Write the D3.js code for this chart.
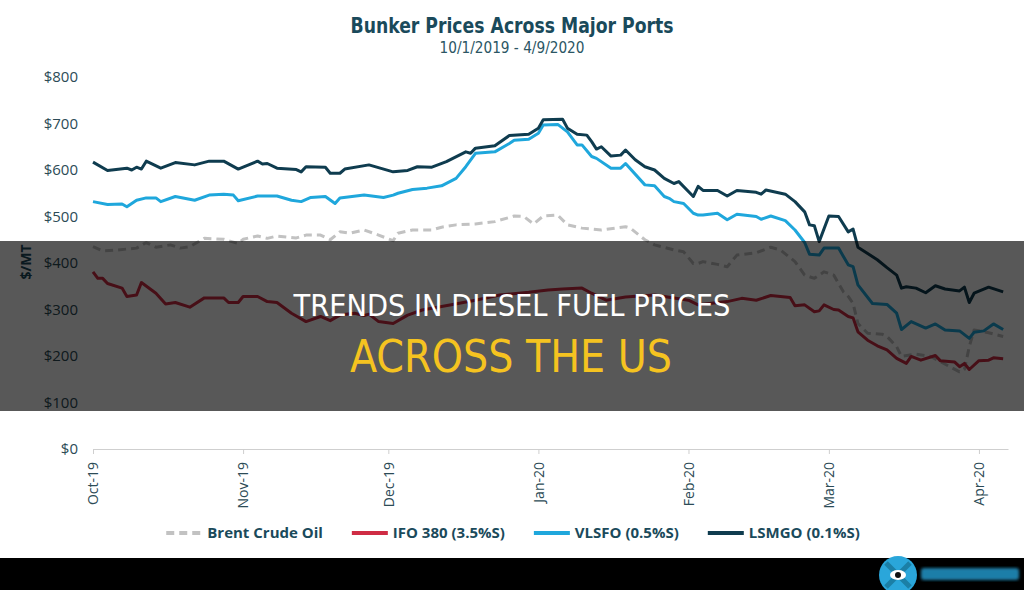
<!DOCTYPE html>
<html>
<head>
<meta charset="utf-8">
<script src="https://cdn.jsdelivr.net/npm/d3@7"></script>
<style>
  html, body { margin: 0; padding: 0; background: #fff; }
  svg { display: block; }
</style>
</head>
<body>
<div id="chart"></div>
<script>
// values, $/MT
const brentDates = ['2019-10-01','2019-10-03','2019-10-06','2019-10-10','2019-10-12','2019-10-14','2019-10-17','2019-10-19','2019-10-21','2019-10-24','2019-10-28','2019-10-31',
    '2019-11-01','2019-11-04','2019-11-06','2019-11-08','2019-11-12','2019-11-14','2019-11-17','2019-11-19','2019-11-21','2019-11-23','2019-11-26','2019-11-29',
    '2019-12-02','2019-12-03','2019-12-06','2019-12-10','2019-12-12','2019-12-15','2019-12-19','2019-12-23','2019-12-27','2019-12-29','2019-12-31',
    '2020-01-02','2020-01-05','2020-01-07','2020-01-10','2020-01-14','2020-01-19','2020-01-20','2020-01-23','2020-01-25','2020-01-29','2020-01-31',
    '2020-02-02','2020-02-03','2020-02-04','2020-02-07','2020-02-09','2020-02-11','2020-02-15','2020-02-18','2020-02-20','2020-02-23','2020-02-25','2020-02-27','2020-02-29',
    '2020-03-02','2020-03-04','2020-03-05','2020-03-06','2020-03-07','2020-03-09','2020-03-12','2020-03-13','2020-03-15','2020-03-16','2020-03-19','2020-03-22','2020-03-24','2020-03-28','2020-03-29','2020-03-30','2020-03-31',
    '2020-04-03','2020-04-06']
const brentValues = [435,426,428,432,444,434,439,432,435,453,451,442,
    451,458,453,458,454,460,460,450,467,464,471,460,
    448,464,471,471,477,482,484,489,501,500,484,
    501,503,482,475,471,478,475,450,439,428,424,
    399,399,403,397,392,417,422,434,428,403,374,367,381,
    374,338,328,313,270,249,247,242,220,199,204,199,188,166,171,220,256,
    250,242]

const ifoDates = ['2019-10-01','2019-10-02','2019-10-03','2019-10-04','2019-10-07','2019-10-08','2019-10-10','2019-10-11','2019-10-14','2019-10-16','2019-10-18','2019-10-21','2019-10-24','2019-10-28','2019-10-29','2019-10-31',
    '2019-11-01','2019-11-04','2019-11-06','2019-11-08','2019-11-11','2019-11-14','2019-11-17','2019-11-19','2019-11-21','2019-11-24','2019-11-26','2019-11-27','2019-11-29',
    '2019-12-02','2019-12-05','2019-12-08','2019-12-14','2019-12-19','2019-12-24','2019-12-30',
    '2020-01-03','2020-01-06','2020-01-10','2020-01-12','2020-01-15','2020-01-19','2020-01-25',
    '2020-02-01','2020-02-03','2020-02-09','2020-02-12','2020-02-15','2020-02-18','2020-02-22','2020-02-23','2020-02-25','2020-02-27','2020-02-28','2020-02-29',
    '2020-03-02','2020-03-03','2020-03-05','2020-03-06','2020-03-07','2020-03-09','2020-03-11','2020-03-13','2020-03-15','2020-03-17','2020-03-18','2020-03-20','2020-03-23','2020-03-24','2020-03-27','2020-03-28','2020-03-29','2020-03-30',
    '2020-04-01','2020-04-03','2020-04-04','2020-04-06']
const ifoValues = [381,367,367,356,346,328,331,358,335,312,315,305,325,325,315,315,
    328,328,317,315,292,274,285,276,288,292,287,290,274,
    270,288,299,310,320,331,337,
    342,344,346,335,320,327,331,
    320,310,317,324,320,330,326,308,310,295,297,310,
    300,299,285,282,252,234,222,213,195,184,199,191,201,190,187,177,184,171,
    190,191,196,194]

const vlsfoDates = ['2019-10-01','2019-10-04','2019-10-07','2019-10-08','2019-10-10','2019-10-12','2019-10-14','2019-10-15','2019-10-18','2019-10-22','2019-10-25','2019-10-28','2019-10-30','2019-10-31',
    '2019-11-04','2019-11-08','2019-11-11','2019-11-13','2019-11-15','2019-11-18','2019-11-20','2019-11-21','2019-11-26','2019-11-30',
    '2019-12-02','2019-12-03','2019-12-06','2019-12-09','2019-12-12','2019-12-15','2019-12-17','2019-12-19','2019-12-23','2019-12-26','2019-12-27','2019-12-30',
    '2020-01-01','2020-01-02','2020-01-05','2020-01-07','2020-01-09','2020-01-10','2020-01-12','2020-01-13','2020-01-16','2020-01-18','2020-01-19','2020-01-23','2020-01-25','2020-01-27','2020-01-28','2020-01-29','2020-01-31',
    '2020-02-02','2020-02-03','2020-02-04','2020-02-07','2020-02-09','2020-02-11','2020-02-15','2020-02-16','2020-02-18','2020-02-21','2020-02-23','2020-02-25','2020-02-26','2020-02-28','2020-02-29',
    '2020-03-03','2020-03-05','2020-03-06','2020-03-07','2020-03-10','2020-03-13','2020-03-15','2020-03-16','2020-03-18','2020-03-21','2020-03-23','2020-03-25','2020-03-28','2020-03-30','2020-03-31',
    '2020-04-02','2020-04-04','2020-04-06']
const vlsfoValues = [532,526,527,521,535,540,540,532,543,535,546,548,546,534,
    544,544,535,532,541,543,528,540,546,541,
    546,550,558,561,566,582,607,636,639,657,664,666,
    679,697,698,682,654,654,629,625,604,604,614,568,566,543,539,532,528,
    507,503,503,507,493,505,500,494,501,491,471,444,419,417,432,
    432,396,392,353,313,311,292,257,274,260,269,256,254,238,251,
    254,269,257]

const lsmgoDates = ['2019-10-01','2019-10-04','2019-10-08','2019-10-09','2019-10-10','2019-10-11','2019-10-12','2019-10-15','2019-10-18','2019-10-22','2019-10-25','2019-10-28','2019-10-31',
    '2019-11-04','2019-11-05','2019-11-06','2019-11-08','2019-11-12','2019-11-13','2019-11-14','2019-11-18','2019-11-19','2019-11-21','2019-11-22','2019-11-27',
    '2019-12-02','2019-12-05','2019-12-07','2019-12-10','2019-12-13','2019-12-17','2019-12-18','2019-12-19','2019-12-23','2019-12-26','2019-12-30',
    '2020-01-01','2020-01-02','2020-01-06','2020-01-07','2020-01-09','2020-01-11','2020-01-12','2020-01-13','2020-01-14','2020-01-16','2020-01-18','2020-01-19','2020-01-21','2020-01-23','2020-01-25','2020-01-27','2020-01-29','2020-01-30',
    '2020-02-02','2020-02-03','2020-02-04','2020-02-07','2020-02-09','2020-02-11','2020-02-15','2020-02-16','2020-02-17','2020-02-21','2020-02-23','2020-02-25','2020-02-26','2020-02-27','2020-02-28',
    '2020-03-01','2020-03-03','2020-03-05','2020-03-06','2020-03-07','2020-03-11','2020-03-13','2020-03-15','2020-03-16','2020-03-17','2020-03-19','2020-03-21','2020-03-23','2020-03-25','2020-03-28','2020-03-29','2020-03-30','2020-03-31',
    '2020-04-03','2020-04-06']
const lsmgoValues = [617,599,604,600,606,602,619,604,616,611,619,619,602,
    619,613,614,604,601,596,607,606,593,593,602,611,
    596,599,607,606,618,639,636,647,652,674,677,
    690,708,709,690,677,675,661,645,650,630,632,643,622,607,600,582,571,575,
    543,565,556,556,544,556,552,548,557,548,532,510,482,480,446,
    501,500,467,473,434,407,390,374,346,349,346,336,351,344,340,348,315,335,
    348,338]

const yTicks = [0, 100, 200, 300, 400, 500, 600, 700, 800]

const parseDate = d3.timeParse('%Y-%m-%d')

const series = [
    {name: 'Brent Crude Oil', dates: brentDates, values: brentValues, color: '#c2c2c2', dash: '8,5'},
    {name: 'IFO 380 (3.5%S)', dates: ifoDates, values: ifoValues, color: '#cf2c44'},
    {name: 'VLSFO (0.5%S)', dates: vlsfoDates, values: vlsfoValues, color: '#1fa7dc'},
    {name: 'LSMGO (0.1%S)', dates: lsmgoDates, values: lsmgoValues, color: '#0f3c4f'},
]

const width = 1024
const height = 590
const teal = '#1a4a5b'
const narrow = '"Liberation Sans Narrow", "DejaVu Sans Condensed", Roboto, sans-serif'
const body = '"Open Sans", "Noto Sans", sans-serif'

const svg = d3.select('#chart').append('svg')
    .attr('width', width)
    .attr('height', height)

svg.append('rect')
    .attr('width', width)
    .attr('height', height)
    .attr('fill', '#fff')

// title
svg.append('text')
    .attr('x', 512)
    .attr('y', 33)
    .attr('text-anchor', 'middle')
    .attr('font-family', narrow)
    .attr('font-weight', 'bold')
    .attr('font-size', 22)
    .attr('textLength', 323)
    .attr('lengthAdjust', 'spacingAndGlyphs')
    .attr('fill', teal)
    .text('Bunker Prices Across Major Ports')

svg.append('text')
    .attr('x', 512)
    .attr('y', 53)
    .attr('text-anchor', 'middle')
    .attr('font-family', narrow)
    .attr('font-size', 15)
    .attr('textLength', 145)
    .attr('lengthAdjust', 'spacingAndGlyphs')
    .attr('fill', '#2b5664')
    .text('10/1/2019 - 4/9/2020')

// scales
const x = d3.scaleTime()
    .domain([new Date(2019, 9, 1), new Date(2020, 3, 7)])
    .range([93, 1008])

const y = d3.scaleLinear()
    .domain([0, 800])
    .range([449, 77])

// y labels
svg.append('g')
    .selectAll('text')
    .data(yTicks)
    .join('text')
    .attr('x', 78)
    .attr('y', d => y(d))
    .attr('dy', '0.35em')
    .attr('text-anchor', 'end')
    .attr('font-family', body)
    .attr('font-size', 15)
    .attr('fill', '#2c4b56')
    .text(d => '$' + d)

svg.append('text')
    .attr('transform', 'translate(31,262) rotate(-90)')
    .attr('text-anchor', 'middle')
    .attr('font-family', body)
    .attr('font-weight', 'bold')
    .attr('font-size', 14)
    .attr('fill', teal)
    .text('$/MT')

// x axis
const xAxis = svg.append('g')
    .attr('transform', `translate(0,${y(0)})`)
    .call(d3.axisBottom(x)
        .ticks(d3.timeMonth.every(1))
        .tickFormat(d3.timeFormat('%b-%y'))
        .tickSizeInner(5)
        .tickSizeOuter(0)
        .tickPadding(8))

xAxis.select('.domain').attr('stroke', '#cfcfcf').attr('stroke-width', 1)
xAxis.selectAll('.tick line').attr('stroke', '#cfcfcf')
xAxis.selectAll('.tick text')
    .attr('transform', 'rotate(-90)')
    .attr('x', -13)
    .attr('y', 0)
    .attr('dy', '0.35em')
    .attr('text-anchor', 'end')
    .attr('font-family', body)
    .attr('font-size', 14)
    .attr('fill', '#2c4b56')

// lines
const line = d3.line()
    .x(d => x(d.date))
    .y(d => y(d.value))

series.forEach(s => {
    const pts = s.dates.map((d, i) => ({date: parseDate(d), value: s.values[i]}))
    svg.append('path')
        .datum(pts)
        .attr('fill', 'none')
        .attr('stroke', s.color)
        .attr('stroke-width', 3)
        .attr('stroke-linejoin', 'round')
        .attr('stroke-dasharray', s.dash || null)
        .attr('d', line)
})

// legend, centred under the plot
const legend = svg.append('g')
let lx = 0
series.forEach(s => {
    const item = legend.append('g').attr('transform', `translate(${lx},0)`)
    item.append('line')
        .attr('x1', 0)
        .attr('x2', 36)
        .attr('stroke', s.color)
        .attr('stroke-width', 4)
        .attr('stroke-dasharray', s.dash || null)
    const t = item.append('text')
        .attr('x', 41)
        .attr('dy', '0.35em')
        .attr('font-family', body)
        .attr('font-weight', 'bold')
        .attr('font-size', 15)
        .attr('fill', teal)
        .text(s.name)
    lx += 41 + t.node().getComputedTextLength() + 29
})
lx -= 29
legend.attr('transform', `translate(${513 - lx / 2},533)`)

// dark banner laid over the chart
svg.append('rect')
    .attr('x', 0)
    .attr('y', 241)
    .attr('width', width)
    .attr('height', 170)
    .attr('fill', '#000')
    .attr('opacity', 0.655)

svg.append('text')
    .attr('x', 512)
    .attr('y', 316)
    .attr('text-anchor', 'middle')
    .attr('font-family', narrow)
    .attr('font-size', 31)
    .attr('textLength', 437)
    .attr('lengthAdjust', 'spacingAndGlyphs')
    .attr('fill', '#fff')
    .text('TRENDS IN DIESEL FUEL PRICES')

svg.append('text')
    .attr('x', 511)
    .attr('y', 372)
    .attr('text-anchor', 'middle')
    .attr('font-family', narrow)
    .attr('font-size', 44)
    .attr('textLength', 322)
    .attr('lengthAdjust', 'spacingAndGlyphs')
    .attr('fill', '#f5c320')
    .text('ACROSS THE US')

// black strip at the bottom with the badge
svg.append('rect')
    .attr('x', 0)
    .attr('y', 558)
    .attr('width', width)
    .attr('height', height - 558)
    .attr('fill', '#000')

const defs = svg.append('defs')
defs.append('filter')
    .attr('id', 'blur')
    .append('feGaussianBlur')
    .attr('stdDeviation', 1.6)

const badge = svg.append('g').attr('transform', 'translate(898,575)')
badge.append('circle').attr('r', 19).attr('fill', '#2aa6da')
badge.append('path')
    .attr('d', 'M-12,-12L12,12M12,-12L-12,12')
    .attr('stroke', '#1b7fa6')
    .attr('stroke-width', 5)
badge.append('ellipse').attr('rx', 8).attr('ry', 5).attr('fill', '#fff')
badge.append('circle').attr('r', 3).attr('fill', '#111')

svg.append('rect')
    .attr('x', 921)
    .attr('y', 568)
    .attr('width', 98)
    .attr('height', 12)
    .attr('rx', 3)
    .attr('fill', '#1d7ea8')
    .attr('filter', 'url(#blur)')
</script>
</body>
</html>
